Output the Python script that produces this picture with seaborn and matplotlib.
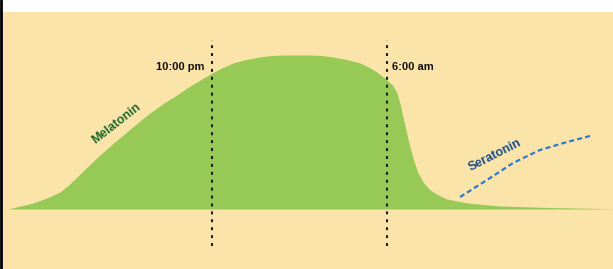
import numpy as np
import pandas as pd
import matplotlib
matplotlib.use("Agg")
import matplotlib.pyplot as plt
import seaborn as sns

# clock hours counted from noon (24 = midnight, 30 = 6 am)
mel_hours = [12.67, 13.25, 13.82, 14.45, 15.05, 15.45, 15.83, 16.35, 16.88, 17.50, 18.11,
             18.65, 19.17, 19.80, 20.40, 20.85, 21.31, 22.00, 22.45, 22.96, 23.55, 24.19,
             24.70, 25.25, 25.85, 26.48, 27.00, 27.53, 28.15, 28.77, 29.15, 29.54, 30.00,
             30.25, 30.46, 30.60, 30.73, 30.89, 31.05, 31.23, 31.42, 31.68, 31.97, 32.34,
             32.74, 33.20, 33.66, 34.40, 35.17, 36.30, 37.45, 38.60, 39.74, 40.33]
mel_level = [0, 3, 6, 11, 17, 24, 32, 43, 54, 66, 77,
             87, 96, 106, 114, 121, 127, 136, 141, 146, 149.5, 152,
             153.5, 154, 154, 154, 153.5, 152, 149.5, 146, 142, 137, 129,
             124, 116, 105, 92, 77, 62, 48, 36, 26, 19, 14,
             10, 8, 6, 4.5, 3, 2.2, 1.5, 1, 0.5, 0]

ser_hours = [33.34, 34.57, 35.76, 36.99, 38.23, 39.28]
ser_level = [12, 29, 46, 59, 67, 73]

marks = [22.0, 30.0]
mark_labels = ["10:00 pm", "6:00 am"]

mel = pd.DataFrame({"hour": mel_hours, "level": mel_level})
ser = pd.DataFrame({"hour": ser_hours, "level": ser_level})

sns.set_style("white")
plt.rcParams["font.family"] = ["Liberation Sans", "DejaVu Sans"]

fig = plt.figure(figsize=(6.13, 2.69), dpi=100)
ax = fig.add_axes([3 / 613, 0, 610 / 613, 257 / 269])
ax.set_facecolor("#fbe4a9")

ax.fill_between(mel["hour"], 0, mel["level"], color="#96c955", lw=0)
sns.lineplot(data=ser, x="hour", y="level", ax=ax, color="#2b7bd1", lw=1.6,
             linestyle=(0, (2.3, 1.4)))

ax.vlines(marks, -37, 169, colors="#1a1a1a", lw=1.5, linestyles=[(0, (1.4, 2.4))])
ax.text(marks[0] - 0.32, 142, mark_labels[0], ha="right", va="center",
        fontsize=8, fontweight="bold", color="#111111")
ax.text(marks[1] + 0.23, 142, mark_labels[1], ha="left", va="center",
        fontsize=8, fontweight="bold", color="#111111")

ax.text(17.61, 85, "Melatonin", rotation=38, ha="center", va="center",
        fontsize=9, fontweight="bold", color="#1f6b2b", rotation_mode="anchor")
ax.text(34.94, 54, "Seratonin", rotation=27, ha="center", va="center",
        fontsize=9, fontweight="bold", color="#1b4f8f", rotation_mode="anchor")

ax.set_xlim(12.45, 40.33)
ax.set_ylim(-60, 197)
ax.set_xlabel("")
ax.set_ylabel("")
ax.set_xticks([])
ax.set_yticks([])
for s in ax.spines.values():
    s.set_visible(False)

fig.add_artist(plt.Line2D([1.5 / 613, 1.5 / 613], [0, 1], transform=fig.transFigure,
                          color="black", lw=2))

fig.savefig("out.png", dpi=100)
